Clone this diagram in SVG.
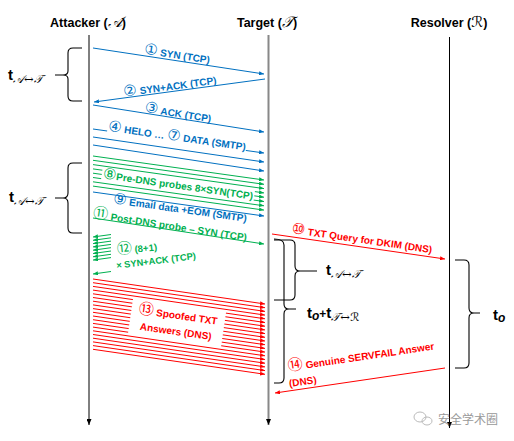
<svg xmlns="http://www.w3.org/2000/svg" width="514" height="441" viewBox="0 0 514 441">
<defs>
<style>
.hd{font-family:"Liberation Sans",Arial,sans-serif;font-weight:bold;font-size:12.5px;fill:#000}
.sc{font-family:"DejaVu Serif","DejaVu Sans","Noto Sans",serif;font-style:italic;font-weight:normal;font-size:15px}
.lb{font-family:"Liberation Sans","Noto Sans CJK SC",sans-serif;font-weight:bold;font-size:10px}
.cn{font-family:"DejaVu Sans","Noto Sans CJK SC",sans-serif;font-weight:normal;font-size:15px}
.bl{fill:#0070C0}.gr{fill:#00B050}.rd{fill:#FF0000}
.mb{stroke:#0070C0;stroke-width:1;fill:none;marker-end:url(#ab)}
.mg{stroke:#00B050;stroke-width:1;fill:none;marker-end:url(#ag)}
.mr{stroke:#FF0000;stroke-width:1;fill:none;marker-end:url(#ar)}
.br{stroke:#000;stroke-width:1.1;fill:none}
.tt{font-family:"Liberation Sans",Arial,sans-serif;font-weight:bold;font-size:15px;fill:#000}
.ts{font-family:"DejaVu Serif","DejaVu Sans",serif;font-style:italic;font-weight:normal;font-size:11.5px}
.to{font-family:"Liberation Sans",Arial,sans-serif;font-style:italic;font-weight:bold;font-size:12px}
.bg{fill:#fff}
</style>
<marker id="ab" viewBox="0 0 5 4" refX="5" refY="2" markerWidth="5" markerHeight="4" markerUnits="userSpaceOnUse" orient="auto"><path d="M0,0L5,2L0,4z" fill="#0070C0"/></marker>
<marker id="ag" viewBox="0 0 5 4" refX="5" refY="2" markerWidth="5" markerHeight="4" markerUnits="userSpaceOnUse" orient="auto"><path d="M0,0L5,2L0,4z" fill="#00B050"/></marker>
<marker id="ar" viewBox="0 0 5 4" refX="5" refY="2" markerWidth="5" markerHeight="4" markerUnits="userSpaceOnUse" orient="auto"><path d="M0,0L5,2L0,4z" fill="#FF0000"/></marker>
<marker id="ak" viewBox="0 0 6 5" refX="6" refY="2.5" markerWidth="6" markerHeight="5" markerUnits="userSpaceOnUse" orient="auto"><path d="M0,0L6,2.5L0,5z" fill="#000"/></marker>
</defs>
<rect width="514" height="441" fill="#fff"/>

<g id="attacker">
<text class="hd" x="88" y="27" text-anchor="middle">Attacker (<tspan class="sc">𝒜</tspan>)</text>
<line x1="89" y1="35" x2="89" y2="425" stroke="#000" stroke-width="1" marker-end="url(#ak)"/>
</g>
<g id="target">
<text class="hd" x="267" y="27" text-anchor="middle">Target (<tspan class="sc">𝒯</tspan>)</text>
<line x1="268.5" y1="35" x2="268.5" y2="425" stroke="#888" stroke-width="2" marker-end="url(#ak)"/>
</g>
<g id="resolver">
<text class="hd" x="449" y="27" text-anchor="middle">Resolver (<tspan class="sc">ℛ</tspan>)</text>
<line x1="449.5" y1="37" x2="449.5" y2="428" stroke="#000" stroke-width="1" marker-end="url(#ak)"/>
</g>

<g id="connectors">
<line class="mb" x1="93" y1="48" x2="264" y2="74"/>
<line class="mb" x1="265" y1="79" x2="94" y2="102"/>
<line class="mb" x1="93" y1="105" x2="264" y2="132"/>
<line class="mb" x1="93" y1="129" x2="264" y2="153"/>
<line class="mb" x1="93" y1="137" x2="264" y2="162"/>
<line class="mb" x1="93" y1="145" x2="264" y2="171"/>
<line class="mg" x1="93" y1="156" x2="264" y2="180"/>
<line class="mg" x1="93" y1="160.3" x2="264" y2="184.3"/>
<line class="mg" x1="93" y1="164.6" x2="264" y2="188.6"/>
<line class="mg" x1="93" y1="168.9" x2="264" y2="192.9"/>
<line class="mg" x1="93" y1="173.2" x2="264" y2="197.2"/>
<line class="mg" x1="93" y1="177.5" x2="264" y2="201.5"/>
<line class="mg" x1="93" y1="181.8" x2="264" y2="205.8"/>
<line class="mg" x1="93" y1="186.1" x2="264" y2="210.1"/>
<line class="mb" x1="93" y1="192" x2="264" y2="216"/>
<line class="mg" x1="93" y1="218" x2="264" y2="244"/>
<line class="mg" x1="111" y1="234.5" x2="93" y2="237"/>
<line class="mg" x1="111" y1="237.8" x2="93" y2="240.3"/>
<line class="mg" x1="111" y1="241.1" x2="93" y2="243.6"/>
<line class="mg" x1="111" y1="244.4" x2="93" y2="246.9"/>
<line class="mg" x1="111" y1="247.7" x2="93" y2="250.2"/>
<line class="mg" x1="111" y1="251" x2="93" y2="253.5"/>
<line class="mg" x1="111" y1="254.3" x2="93" y2="256.8"/>
<line class="mg" x1="111" y1="257.6" x2="93" y2="260.1"/>
<line class="mg" x1="111" y1="271.5" x2="93" y2="274"/>
<line class="mr" x1="93" y1="279" x2="265" y2="304"/>
<line class="mr" x1="93" y1="282.7" x2="265" y2="307.7"/>
<line class="mr" x1="93" y1="286.4" x2="265" y2="311.4"/>
<line class="mr" x1="93" y1="290.1" x2="265" y2="315.1"/>
<line class="mr" x1="93" y1="293.8" x2="265" y2="318.8"/>
<line class="mr" x1="93" y1="297.5" x2="265" y2="322.5"/>
<line class="mr" x1="93" y1="301.2" x2="265" y2="326.2"/>
<line class="mr" x1="93" y1="304.9" x2="265" y2="329.9"/>
<line class="mr" x1="93" y1="308.6" x2="265" y2="333.6"/>
<line class="mr" x1="93" y1="312.3" x2="265" y2="337.3"/>
<line class="mr" x1="93" y1="316" x2="265" y2="341"/>
<line class="mr" x1="93" y1="319.7" x2="265" y2="344.7"/>
<line class="mr" x1="93" y1="323.4" x2="265" y2="348.4"/>
<line class="mr" x1="93" y1="327.1" x2="265" y2="352.1"/>
<line class="mr" x1="93" y1="330.8" x2="265" y2="355.8"/>
<line class="mr" x1="93" y1="334.5" x2="265" y2="359.5"/>
<line class="mr" x1="93" y1="338.2" x2="265" y2="363.2"/>
<line class="mr" x1="93" y1="341.9" x2="265" y2="366.9"/>
<line class="mr" x1="93" y1="345.6" x2="265" y2="370.6"/>
<line class="mr" x1="93" y1="349.3" x2="265" y2="374.3"/>
<line class="mr" x1="272" y1="234" x2="445" y2="259"/>
<line class="mr" x1="445" y1="368" x2="275" y2="393"/>
</g>

<g id="labels">
<text class="lb bl" x="177" y="58.6" text-anchor="middle" transform="rotate(8.6 177 55)"><tspan class="cn">①</tspan> SYN (TCP)</text>
<text class="lb bl" x="170" y="90.1" text-anchor="middle" transform="rotate(-7.9 170 86.5)"><tspan class="cn">②</tspan> SYN+ACK (TCP)</text>
<text class="lb bl" x="178" y="117.1" text-anchor="middle" transform="rotate(9 178 113.5)"><tspan class="cn">③</tspan> ACK (TCP)</text>
<g transform="translate(177 137) rotate(8.1)">
<rect class="bg" x="-70" y="-6.5" width="140" height="12.5"/>
<text class="lb bl" x="0" y="3.6" text-anchor="middle"><tspan class="cn">④</tspan> HELO … <tspan class="cn">⑦</tspan> DATA (SMTP)</text>
</g>
<g transform="translate(178 185.3) rotate(8.1)">
<rect class="bg" x="-77" y="-6.5" width="154" height="12.8"/>
<text class="lb gr" x="0" y="3.6" text-anchor="middle"><tspan class="cn">⑧</tspan>Pre-DNS probes 8×SYN(TCP)</text>
</g>
<text class="lb bl" x="180" y="212.6" text-anchor="middle" transform="rotate(8 180 209)"><tspan class="cn">⑨</tspan> Email data +EOM (SMTP)</text>
<text class="lb gr" x="170" y="229.3" text-anchor="middle" transform="rotate(8.7 170 225.7)"><tspan class="cn">⑪</tspan> Post-DNS probe – SYN (TCP)</text>
<text class="lb gr" x="137" y="252.4" text-anchor="middle" transform="rotate(-6 137 249)" style="font-size:9.5px"><tspan class="cn">⑫</tspan> (8+1)</text>
<text class="lb gr" x="156" y="263.9" text-anchor="middle" transform="rotate(-7 156 260.5)" style="font-size:9.3px">× SYN+ACK (TCP)</text>
<g transform="translate(177 323) rotate(8.2)">
<rect class="bg" x="-47" y="-18.5" width="94" height="37"/>
<text class="lb rd" x="0" y="-4" text-anchor="middle"><tspan class="cn">⑬</tspan> Spoofed TXT</text>
<text class="lb rd" x="0" y="12" text-anchor="middle">Answers (DNS)</text>
</g>
<text class="lb rd" x="362" y="243.1" text-anchor="middle" transform="rotate(8.2 362 239.5)"><tspan class="cn">⑩</tspan> TXT Query for DKIM (DNS)</text>
<text class="lb rd" x="288" y="371.1" transform="rotate(-8.4 288 367.5)"><tspan class="cn">⑭</tspan> Genuine SERVFAIL Answer</text>
<text class="lb rd" x="289" y="387.1" transform="rotate(-8.4 289 383.5)">(DNS)</text>
</g>

<g id="braces">
<path class="br" d="M82,48H73Q68,48 68,53V71Q68,75 63,75H55H63Q68,75 68,79V96Q68,101 73,101H82"/>
<text x="8" y="80"><tspan class="tt">t</tspan><tspan class="ts" dy="3">𝒜↔𝒯</tspan></text>
<path class="br" d="M82,163H73Q68,163 68,168V193Q68,198 63,198H55H63Q68,198 68,203V228Q68,233 73,233H82"/>
<text x="9" y="202"><tspan class="tt">t</tspan><tspan class="ts" dy="3">𝒜↔𝒯</tspan></text>
<path class="br" d="M274,240H290Q295,240 295,245V266Q295,271 300,271H317H300Q295,271 295,276V295Q295,300 290,300H274"/>
<text x="326" y="275"><tspan class="tt">t</tspan><tspan class="ts" dy="3">𝒜↔𝒯</tspan></text>
<path class="br" d="M274,239Q284,239 284,245V304Q284,309 289,309H296H289Q284,309 284,314V378Q284,383 279,383H274"/>
<text x="307" y="318"><tspan class="tt">t</tspan><tspan class="to" dy="2">o</tspan><tspan class="tt" dy="-2" style="font-size:12px">+</tspan><tspan class="tt">t</tspan><tspan class="ts" dy="3">𝒯↔ℛ</tspan></text>
<path class="br" d="M455,260H464Q469,260 469,265V308Q469,313 474,313H480H474Q469,313 469,318V363Q469,368 464,368H455"/>
<text x="493" y="320"><tspan class="tt">t</tspan><tspan class="to" dy="2">o</tspan></text>
</g>

<g id="watermark">
<ellipse cx="420" cy="417" rx="6" ry="5" fill="none" stroke="#bbb" stroke-width="1"/>
<ellipse cx="427" cy="421" rx="5" ry="4" fill="none" stroke="#bbb" stroke-width="1"/>
<text x="438" y="424" style="font-family:'Noto Sans CJK SC',sans-serif;font-size:12px;fill:#999">安全学术圈</text>
</g>
</svg>
